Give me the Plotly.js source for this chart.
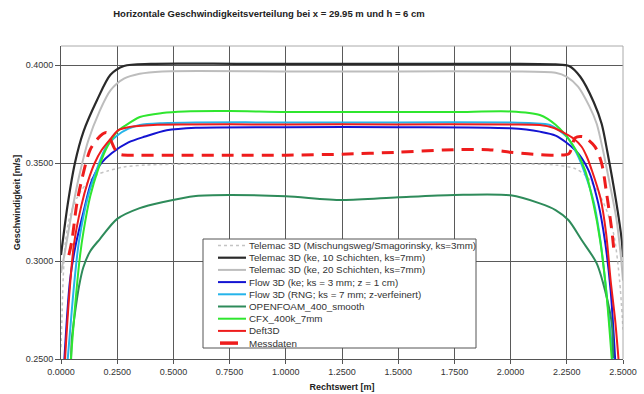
<!DOCTYPE html>
<html>
<head>
<meta charset="utf-8">
<script src="https://cdn.plot.ly/plotly-3.0.1.min.js"></script>
<style>html,body{margin:0;padding:0;background:#fff;}#chart{width:644px;height:394px;}</style>
</head>
<body>
<div id="chart"></div>
<script>
// ---- data ----
var seriesNames = [
  "Telemac 3D (Mischungsweg/Smagorinsky, ks=3mm)",
  "Telemac 3D (ke, 10 Schichten, ks=7mm)",
  "Telemac 3D (ke, 20 Schichten, ks=7mm)",
  "Flow 3D (ke; ks = 3 mm; z = 1 cm)",
  "Flow 3D (RNG; ks = 7 mm; z-verfeinert)",
  "OPENFOAM_400_smooth",
  "CFX_400k_7mm",
  "Deft3D",
  "Messdaten"
];

var telemacMischX = [0, 0.004, 0.01, 0.02, 0.04, 0.07, 0.11, 0.16, 0.21, 0.28, 0.38, 0.6, 1.0, 1.5, 2.0, 2.2, 2.29, 2.34, 2.39, 2.43, 2.46, 2.485, 2.5];
var telemacMischY = [0.256, 0.27, 0.292, 0.31, 0.323, 0.332, 0.339, 0.344, 0.346, 0.348, 0.349, 0.3495, 0.3495, 0.3495, 0.3495, 0.349, 0.347, 0.343, 0.335, 0.325, 0.313, 0.29, 0.265];

var telemac10X = [0, 0.03, 0.062, 0.1, 0.16, 0.22, 0.28, 0.4, 0.8, 1.2, 1.6, 2.0, 2.2, 2.26, 2.31, 2.37, 2.405, 2.43, 2.47, 2.494, 2.5];
var telemac10Y = [0.303, 0.329, 0.35, 0.366, 0.382, 0.395, 0.3995, 0.4006, 0.4006, 0.4006, 0.4006, 0.4006, 0.4003, 0.3995, 0.394, 0.381, 0.370, 0.356, 0.330, 0.311, 0.302];

var telemac20X = [0, 0.018, 0.05, 0.08, 0.12, 0.17, 0.22, 0.28, 0.35, 0.45, 1.0, 1.5, 2.0, 2.2, 2.25, 2.3, 2.35, 2.383, 2.41, 2.44, 2.47, 2.49, 2.5];
var telemac20Y = [0.294, 0.305, 0.326, 0.343, 0.361, 0.376, 0.387, 0.393, 0.3955, 0.3967, 0.3967, 0.3967, 0.3967, 0.396, 0.394, 0.389, 0.379, 0.370, 0.357, 0.34, 0.322, 0.303, 0.29];

var flowKeX = [0.015, 0.04, 0.065, 0.1, 0.137, 0.18, 0.225, 0.3, 0.374, 0.47, 0.6, 1.0, 1.5, 2.0, 2.13, 2.2, 2.287, 2.346, 2.39, 2.42, 2.445, 2.465];
var flowKeY = [0.25, 0.29, 0.308, 0.325, 0.341, 0.35, 0.355, 0.3605, 0.3635, 0.3667, 0.368, 0.3683, 0.3683, 0.3677, 0.366, 0.364, 0.3566, 0.3464, 0.3294, 0.31, 0.285, 0.25];

var flowRngX = [0.03, 0.06, 0.08, 0.12, 0.16, 0.2, 0.25, 0.3, 0.351, 0.45, 0.6, 1.0, 1.5, 2.0, 2.1, 2.175, 2.25, 2.294, 2.33, 2.37, 2.4, 2.43, 2.455];
var flowRngY = [0.25, 0.29, 0.31, 0.333, 0.347, 0.358, 0.364, 0.3675, 0.3694, 0.3703, 0.3707, 0.3707, 0.3707, 0.3707, 0.3703, 0.3694, 0.3634, 0.355, 0.345, 0.33, 0.31, 0.28, 0.25];

var openfoamX = [0.045, 0.048, 0.062, 0.08, 0.099, 0.13, 0.173, 0.25, 0.35, 0.45, 0.6, 0.75, 1.0, 1.25, 1.5, 1.75, 2.0, 2.13, 2.2, 2.257, 2.316, 2.383, 2.427, 2.45, 2.457];
var openfoamY = [0.25, 0.26, 0.2733, 0.287, 0.2967, 0.305, 0.3112, 0.3215, 0.327, 0.330, 0.3332, 0.3337, 0.333, 0.3311, 0.3325, 0.3337, 0.3335, 0.3294, 0.326, 0.3209, 0.3107, 0.2988, 0.2818, 0.2682, 0.2505];

var cfxX = [0.044, 0.065, 0.085, 0.1, 0.13, 0.166, 0.2, 0.225, 0.25, 0.285, 0.351, 0.45, 0.55, 0.75, 1.0, 1.25, 1.5, 1.75, 2.0, 2.13, 2.2, 2.272, 2.331, 2.368, 2.398, 2.425, 2.45];
var cfxY = [0.25, 0.28, 0.303, 0.315, 0.333, 0.347, 0.357, 0.362, 0.366, 0.369, 0.3735, 0.3755, 0.3763, 0.3765, 0.376, 0.376, 0.376, 0.376, 0.3763, 0.3745, 0.3695, 0.360, 0.3464, 0.3294, 0.3107, 0.285, 0.25];

var delftX = [0.018, 0.035, 0.057, 0.09, 0.121, 0.15, 0.181, 0.218, 0.255, 0.3, 0.41, 1.0, 1.5, 2.0, 2.13, 2.19, 2.242, 2.28, 2.316, 2.339, 2.361, 2.4, 2.425, 2.445, 2.465, 2.48];
var delftY = [0.25, 0.28, 0.308, 0.328, 0.341, 0.35, 0.3566, 0.362, 0.3668, 0.3683, 0.3694, 0.3697, 0.3697, 0.3697, 0.3694, 0.368, 0.3651, 0.3625, 0.3583, 0.3532, 0.3464, 0.332, 0.314, 0.29, 0.27, 0.25];

var messX = [0.035, 0.048, 0.07, 0.092, 0.129, 0.16, 0.185, 0.203, 0.22, 0.24, 0.26, 0.35, 0.5, 0.75, 1.0, 1.25, 1.5, 1.7, 1.9, 2.0, 2.1, 2.2, 2.26, 2.287, 2.323, 2.375, 2.405, 2.427, 2.45, 2.46];
var messY = [0.303, 0.31, 0.329, 0.3413, 0.3566, 0.362, 0.3648, 0.3655, 0.362, 0.357, 0.3545, 0.354, 0.354, 0.354, 0.354, 0.3545, 0.3555, 0.3566, 0.3568, 0.3555, 0.3545, 0.354, 0.3548, 0.3628, 0.3634, 0.3583, 0.3498, 0.3345, 0.3158, 0.305];

var xTickVals = [0, 0.25, 0.5, 0.75, 1.0, 1.25, 1.5, 1.75, 2.0, 2.25, 2.5];
var yTickVals = [0.25, 0.30, 0.35, 0.40];

// ---- styles ----
var seriesX = [telemacMischX, telemac10X, telemac20X, flowKeX, flowRngX, openfoamX, cfxX, delftX, messX];
var seriesY = [telemacMischY, telemac10Y, telemac20Y, flowKeY, flowRngY, openfoamY, cfxY, delftY, messY];
var colors = ["#c4c4c4", "#2a2a2a", "#bdbdbd", "#1414d2", "#25b4ea", "#2e8b5a", "#2fe62f", "#ee1c1c", "#ee1c1c"];
var widths = [1.5, 2.2, 2, 2, 2, 2, 2, 2, 3];
var dashes = ["dot", "solid", "solid", "solid", "solid", "solid", "solid", "solid", "12px,8px"];

var traces = seriesNames.map(function (n, i) {
  return {
    type: "scatter", mode: "lines", name: n,
    x: seriesX[i], y: seriesY[i],
    line: {color: colors[i], width: widths[i], dash: dashes[i], shape: "spline", smoothing: 0.8},
    showlegend: false, hoverinfo: "skip"
  };
});

// plot area in pixels
var L = 61, R = 623, T = 46, B = 359;
function px(x) { return (x - L) / (R - L); }
function py(y) { return (B - y) / (B - T); }

var shapes = [];
var annotations = [];
// legend box
shapes.push({type: "rect", xref: "paper", yref: "paper", x0: px(203), x1: px(476), y0: py(348), y1: py(239),
  fillcolor: "#ffffff", line: {color: "#555555", width: 1}, layer: "above"});
seriesNames.forEach(function (n, i) {
  var yc = 245.5 + i * 12.2;
  var isMess = i === seriesNames.length - 1;
  shapes.push({type: "line", xref: "paper", yref: "paper",
    x0: px(isMess ? 220 : 218), x1: px(isMess ? 238 : 246), y0: py(yc), y1: py(yc),
    line: {color: colors[i], width: isMess ? 3.5 : widths[i], dash: isMess ? "solid" : dashes[i]}, layer: "above"});
  annotations.push({xref: "paper", yref: "paper", x: px(247), y: py(yc), xanchor: "left", yanchor: "middle",
    text: n, showarrow: false, font: {family: "Liberation Sans, Arial, sans-serif", size: 9.8, color: "#333333"}});
});

var layout = {
  width: 644, height: 394,
  margin: {l: L, r: 644 - R, t: T, b: 394 - B, pad: 0},
  paper_bgcolor: "#ffffff", plot_bgcolor: "#ffffff",
  font: {family: "Liberation Sans, Arial, sans-serif", size: 9, color: "#333333"},
  title: {text: "Horizontale Geschwindigkeitsverteilung bei x = 29.95 m und h = 6 cm",
    font: {family: "Liberation Sans, Arial, sans-serif", size: 9.5, color: "#222222", weight: "bold"},
    x: px(269), xref: "paper", xanchor: "center", y: 1 - 14 / 394, yref: "container", yanchor: "middle"},
  xaxis: {
    range: [0, 2.5], tickvals: xTickVals, tickformat: ".4f",
    showgrid: true, gridcolor: "#5a5a5a", gridwidth: 1,
    showline: true, linecolor: "#555555", mirror: false,
    ticks: "outside", ticklen: 4, tickcolor: "#555555",
    zeroline: false, fixedrange: true, automargin: false,
    tickfont: {size: 9, color: "#333333"},
    title: {text: "Rechtswert [m]", font: {size: 9, color: "#222222", weight: "bold"}, standoff: 7}
  },
  yaxis: {
    range: [0.25, 0.25 + 0.05 * (B - T) / 98], tickvals: yTickVals, tickformat: ".4f",
    showgrid: true, gridcolor: "#5a5a5a", gridwidth: 1,
    showline: true, linecolor: "#555555", mirror: false,
    ticks: "outside", ticklen: 5, tickcolor: "#555555",
    zeroline: false, fixedrange: true, automargin: false,
    tickfont: {size: 9, color: "#333333"},
    title: {text: "Geschwindigkeit [m/s]", font: {size: 9, color: "#222222", weight: "bold"}, standoff: 3}
  },
  shapes: [
    {type: "line", xref: "paper", yref: "paper", x0: 0, x1: 1, y0: 1, y1: 1, line: {color: "#aaaaaa", width: 1}},
    {type: "line", xref: "paper", yref: "paper", x0: 1, x1: 1, y0: 0, y1: 1, line: {color: "#aaaaaa", width: 1}}
  ].concat(shapes),
  annotations: annotations,
  showlegend: false
};

Plotly.newPlot("chart", traces, layout, {displayModeBar: false, staticPlot: true});
</script>
</body>
</html>
